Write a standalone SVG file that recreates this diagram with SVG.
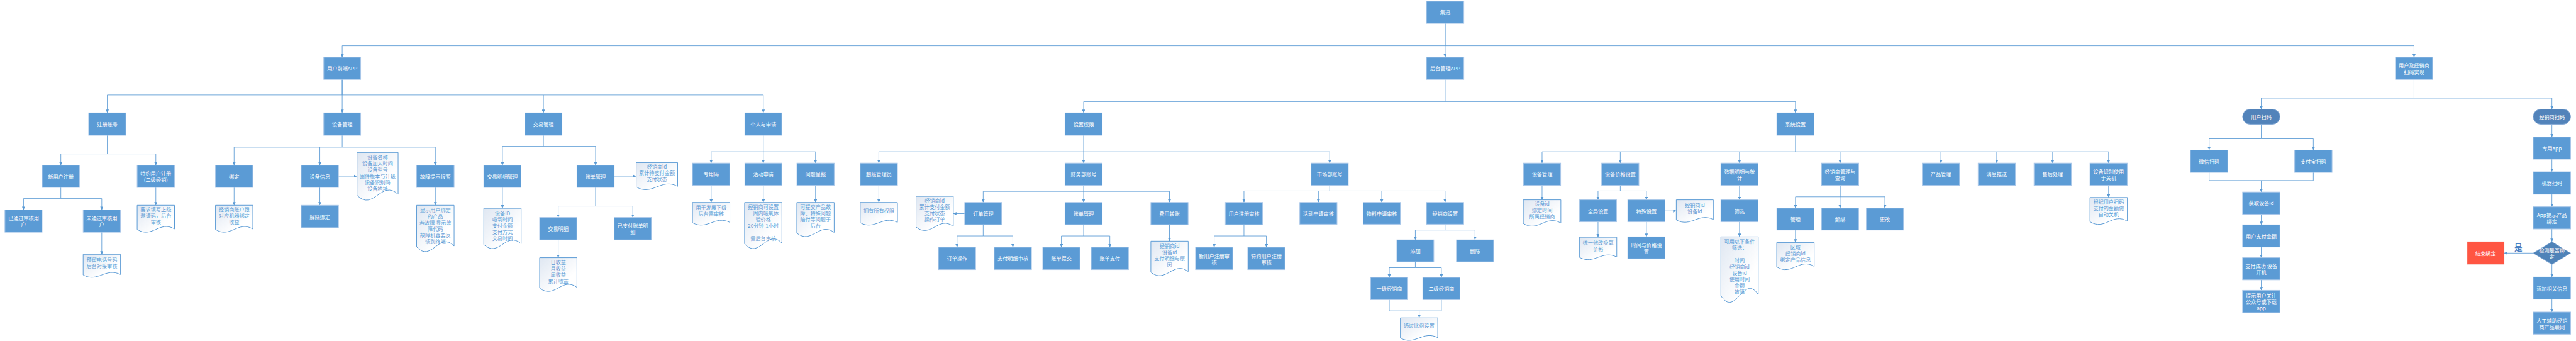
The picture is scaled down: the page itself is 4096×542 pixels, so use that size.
<svg xmlns="http://www.w3.org/2000/svg" width="4096" height="542" viewBox="0 0 4096 542">
<defs>
<style>
text{font-family:"Noto Sans CJK SC","Noto Sans",sans-serif;font-size:13px;text-anchor:middle;dominant-baseline:central}
.b rect,.b polygon{fill:#5B9BD5;stroke:#A8C6E8;stroke-width:1.5}
.b text{fill:#FFFFFF}
.s rect{fill:#5283BA;stroke:#86AAD6}
.dm polygon{fill:#4F83B8;stroke:#86AAD6}
.r rect{fill:#FF5542;stroke:#F0A89E}
.d path{fill:url(#dg);stroke:#5B9BD5;stroke-width:1}
.d text{fill:#5B9BD5}
#edges path{fill:none;stroke:#5B9BD5;stroke-width:1.4}
#edges path.a{marker-end:url(#ah)}
</style>
<linearGradient id="dg" x1="0" y1="0" x2="0.7" y2="0.7">
<stop offset="0" stop-color="#DFE7F2"/>
<stop offset="1" stop-color="#FFFFFF"/>
</linearGradient>
<marker id="ah" viewBox="0 0 10 10" refX="10" refY="5" markerWidth="8" markerHeight="8" orient="auto" markerUnits="userSpaceOnUse">
<path d="M0,0 L10,5 L0,10 z" fill="#5B9BD5"/>
</marker>
</defs>
<rect width="4096" height="542" fill="#FFFFFF"/>
<g transform="scale(0.6287)">
<g id="edges">
<path class="a" d="M3655,59 V115.5 H865.5 V144.6"/>
<path class="a" d="M3655,59 V144.6"/>
<path class="a" d="M3655,115.5 H6105.4 V144.6"/>
<path class="a" d="M865.5,200.7 V240 H271.3 V285.3"/>
<path class="a" d="M865.5,200.7 V285.3"/>
<path class="a" d="M865.5,240 H1374.4 V285.3"/>
<path class="a" d="M1374.4,240 H1930.5 V285.3"/>
<path class="a" d="M3655,200.7 V256.7 H2740.6 V285.3"/>
<path class="a" d="M3655,256.7 H4540.9 V285.3"/>
<path class="a" d="M6105.4,200.7 V248 H5719 V276"/>
<path class="a" d="M6105.4,248 H6454.1 V276"/>
<path class="a" d="M271.3,342 V389 H153.8 V417.8"/>
<path class="a" d="M271.3,389 H394.1 V417.8"/>
<path class="a" d="M153.8,473.9 V502 H59.5 V530.5"/>
<path class="a" d="M153.8,502 H257.4 V530.5"/>
<path class="a" d="M257.4,587.1 V643"/>
<path class="a" d="M394.1,473.9 V519"/>
<path class="a" d="M865.5,342 V372 H592.1 V417.8"/>
<path class="a" d="M808.9,372 V417.8"/>
<path class="a" d="M865.5,372 H1101.1 V417.8"/>
<path class="a" d="M592.1,473.9 V519"/>
<path class="a" d="M808.9,473.9 V519"/>
<path class="a" d="M856,445.3 H902.9"/>
<path class="a" d="M1101.1,473.9 V519"/>
<path class="a" d="M1374.4,342 V370 H1270.7 V417.8"/>
<path class="a" d="M1374.4,370 H1506.3 V417.8"/>
<path class="a" d="M1270.7,473.9 V526.7"/>
<path class="a" d="M1553.4,445.3 H1609"/>
<path class="a" d="M1506.3,473.9 V521 H1411.8 V549.8"/>
<path class="a" d="M1506.3,521 H1600.5 V549.8"/>
<path class="a" d="M1411.8,606.4 V651.5"/>
<path class="a" d="M1930.5,342 V412.3"/>
<path class="a" d="M1930.5,383.7 H1798.6 V412.3"/>
<path class="a" d="M1930.5,383.7 H2062.6 V412.3"/>
<path class="a" d="M1798.6,468.4 V511.8"/>
<path class="a" d="M1930.5,468.4 V511.8"/>
<path class="a" d="M2062.6,468.4 V511.8"/>
<path class="a" d="M2740.6,342 V412.3"/>
<path class="a" d="M2740.6,383.7 H2222.7 V412.3"/>
<path class="a" d="M2740.6,383.7 H3362.9 V412.3"/>
<path class="a" d="M2222.7,468.4 V511.8"/>
<path class="a" d="M2740.6,468.4 V511.8"/>
<path class="a" d="M2740.6,483.8 H2486.6 V511.8"/>
<path class="a" d="M2740.6,483.8 H2957.7 V511.8"/>
<path class="a" d="M2439.8,540 H2411"/>
<path class="a" d="M2486.6,567.9 V596.5 H2420.4 V625"/>
<path class="a" d="M2486.6,596.5 H2561.6 V625"/>
<path class="a" d="M2740.6,567.9 V596.5 H2684.3 V625"/>
<path class="a" d="M2740.6,596.5 H2806.9 V625"/>
<path class="a" d="M2957.7,567.9 V609.7"/>
<path class="a" d="M3362.9,468.4 V482.7 H3146.1 V511.8"/>
<path class="a" d="M3362.9,482.7 H3654.8 V511.8"/>
<path class="a" d="M3334.4,482.7 V511.8"/>
<path class="a" d="M3494.6,482.7 V511.8"/>
<path class="a" d="M3146.1,567.9 V596.5 H3070.7 V625"/>
<path class="a" d="M3146.1,596.5 H3202.8 V625"/>
<path class="a" d="M3654.8,566.8 V581.6 H3579.5 V606.4"/>
<path class="a" d="M3654.8,581.6 H3730.5 V606.4"/>
<path class="a" d="M3579.5,661.9 V676.8 H3513.6 V701.5"/>
<path class="a" d="M3579.5,676.8 H3645.4 V701.5"/>
<path d="M3513.6,757.6 V786.1 H3645.4 V757.6"/>
<path class="a" d="M3589.3,786.1 V803.7"/>
<path class="a" d="M4540.9,342 V383.7 H3900.1 V412.3"/>
<path class="a" d="M4540.9,383.7 H5332.9 V412.3"/>
<path class="a" d="M4097.9,383.7 V412.3"/>
<path class="a" d="M4399.4,383.7 V412.3"/>
<path class="a" d="M4653.9,383.7 V412.3"/>
<path class="a" d="M4908.8,383.7 V412.3"/>
<path class="a" d="M5050,383.7 V412.3"/>
<path class="a" d="M5191.4,383.7 V412.3"/>
<path class="a" d="M3900.1,468.4 V505.2"/>
<path class="a" d="M4097.9,468.4 V482.7 H4041.6 V505.2"/>
<path class="a" d="M4097.9,482.7 H4163.9 V505.2"/>
<path class="a" d="M4041.6,560.8 V599.8"/>
<path class="a" d="M4163.9,560.8 V598.7"/>
<path class="a" d="M4211,533.3 H4239.5"/>
<path class="a" d="M4399.4,468.4 V505.2"/>
<path class="a" d="M4399.4,560.8 V598.7"/>
<path class="a" d="M4653.9,468.4 V497.5 H4540.9 V526.1"/>
<path class="a" d="M4653.9,468.4 V526.1"/>
<path class="a" d="M4653.9,497.5 H4767.1 V526.1"/>
<path class="a" d="M4540.9,581.6 V613"/>
<path class="a" d="M5332.9,468.4 V499.2"/>
<path class="a" d="M5719,314 V350.7 H5587.2 V379.3"/>
<path class="a" d="M5719,350.7 H5850.7 V379.3"/>
<path d="M5587.2,435.9 V456.3 H5850.7 V435.9"/>
<path class="a" d="M5719,456.3 V485.4"/>
<path class="a" d="M5719,541.5 V568.4"/>
<path class="a" d="M5719,624.5 V651.5"/>
<path class="a" d="M5719,707.5 V733.9"/>
<path class="a" d="M6454.1,314 V346.3"/>
<path class="a" d="M6454.1,402.4 V434.3"/>
<path class="a" d="M6454.1,491 V522.8"/>
<path class="a" d="M6454.1,578.9 V611.3"/>
<path class="a" d="M6454.1,668.5 V700.4"/>
<path class="a" d="M6454.1,756.5 V788.9"/>
<path class="a" d="M6406.8,639.9 H6333.1"/>
</g>
<text x="6369" y="624" style="font-size:20px;fill:#4A80C4;font-weight:bold">是</text>

<g id="n_jixun" class="b"><rect x="3607.7" y="3" width="94.6" height="56"/><text x="3655" y="31">集迅</text></g>
<g id="n_userapp" class="b"><rect x="818.8" y="144.6" width="93.5" height="56.1"/><text x="865.5" y="172.6">用户前端APP</text></g>
<g id="n_adminapp" class="b"><rect x="3607.7" y="144.6" width="94.6" height="56.1"/><text x="3655" y="172.6">后台管理APP</text></g>
<g id="n_scanimpl" class="b"><rect x="6058.4" y="144.6" width="93.9" height="56.1"/><text><tspan x="6105.4" y="164.6">用户及经销商</tspan><tspan x="6105.4" y="180.6">扫码实现</tspan></text></g>

<g id="n_zhuce" class="b"><rect x="224.2" y="285.3" width="94.2" height="56.7"/><text x="271.3" y="313.6">注册账号</text></g>
<g id="n_shebei" class="b"><rect x="818.8" y="285.3" width="93.5" height="56.7"/><text x="865.5" y="313.6">设备管理</text></g>
<g id="n_jiaoyi" class="b"><rect x="1327.5" y="285.3" width="93.8" height="56.7"/><text x="1374.4" y="313.6">交易管理</text></g>
<g id="n_geren" class="b"><rect x="1883.8" y="285.3" width="93.5" height="56.7"/><text x="1930.5" y="313.6">个人与申请</text></g>
<g id="n_quanxian" class="b"><rect x="2693.5" y="285.3" width="94.1" height="56.7"/><text x="2740.6" y="313.6">设置权限</text></g>
<g id="n_xitong" class="b"><rect x="4493.8" y="285.3" width="94.2" height="56.7"/><text x="4540.9" y="313.6">系统设置</text></g>

<g id="n_xinyonghu" class="b"><rect x="106.7" y="417.8" width="94.2" height="56.1"/><text x="153.8" y="445.9">新用户注册</text></g>
<g id="n_teyue" class="b"><rect x="346.9" y="417.8" width="94.5" height="56.1"/><text><tspan x="394.1" y="437.9">特约用户注册</tspan><tspan x="394.1" y="453.9">(二级经销)</tspan></text></g>
<g id="n_bangding" class="b"><rect x="544.9" y="417.8" width="94.5" height="56.1"/><text x="592.1" y="445.9">绑定</text></g>
<g id="n_shebeixinxi" class="b"><rect x="761.8" y="417.8" width="94.2" height="56.1"/><text x="808.9" y="445.9">设备信息</text></g>
<g id="n_guzhang" class="b"><rect x="1053.7" y="417.8" width="94.8" height="56.1"/><text x="1101.1" y="445.9">故障提示报警</text></g>
<g id="n_jymxgl" class="b"><rect x="1223.6" y="417.8" width="94.1" height="56.1"/><text x="1270.7" y="445.9">交易明细管理</text></g>
<g id="n_zhangdan" class="b"><rect x="1459.2" y="417.8" width="94.2" height="56.1"/><text x="1506.3" y="445.9">账单管理</text></g>

<g id="n_zhuanyongma" class="b"><rect x="1751.4" y="412.3" width="94.2" height="56.1"/><text x="1798.6" y="440.4">专用码</text></g>
<g id="n_huodong" class="b"><rect x="1883.8" y="412.3" width="93.5" height="56.1"/><text x="1930.5" y="440.4">活动申请</text></g>
<g id="n_wenti" class="b"><rect x="2015.5" y="412.3" width="94.2" height="56.1"/><text x="2062.6" y="440.4">问题呈报</text></g>
<g id="n_chaoji" class="b"><rect x="2175.6" y="412.3" width="94.2" height="56.1"/><text x="2222.7" y="440.4">超级管理员</text></g>
<g id="n_caiwu" class="b"><rect x="2693.5" y="412.3" width="94.1" height="56.1"/><text x="2740.6" y="440.4">财务部账号</text></g>
<g id="n_shichang" class="b"><rect x="3315.8" y="412.3" width="94.2" height="56.1"/><text x="3362.9" y="440.4">市场部账号</text></g>
<g id="n_sbgl2" class="b"><rect x="3853" y="412.3" width="94.2" height="56.1"/><text x="3900.1" y="440.4">设备管理</text></g>
<g id="n_jiage" class="b"><rect x="4050.8" y="412.3" width="94.2" height="56.1"/><text x="4097.9" y="440.4">设备价格设置</text></g>
<g id="n_shuju" class="b"><rect x="4352.3" y="412.3" width="94.2" height="56.1"/><text><tspan x="4399.4" y="432.4">数据明细与统</tspan><tspan x="4399.4" y="448.4">计</tspan></text></g>
<g id="n_jxsgl" class="b"><rect x="4606.8" y="412.3" width="94.2" height="56.1"/><text><tspan x="4653.9" y="432.4">经销商管理与</tspan><tspan x="4653.9" y="448.4">查询</tspan></text></g>
<g id="n_chanpin" class="b"><rect x="4861.7" y="412.3" width="94.2" height="56.1"/><text x="4908.8" y="440.4">产品管理</text></g>
<g id="n_xiaoxi" class="b"><rect x="5002.9" y="412.3" width="94.2" height="56.1"/><text x="5050" y="440.4">消息推送</text></g>
<g id="n_shouhou" class="b"><rect x="5144.3" y="412.3" width="94.2" height="56.1"/><text x="5191.4" y="440.4">售后处理</text></g>
<g id="n_shibie" class="b"><rect x="5285.8" y="412.3" width="94.2" height="56.1"/><text><tspan x="5332.9" y="432.4">设备识别使用</tspan><tspan x="5332.9" y="448.4">于关机</tspan></text></g>

<g id="n_yitongguo" class="b"><rect x="12.5" y="530.5" width="94" height="56.6"/><text><tspan x="59.5" y="550.8">已通过审核用</tspan><tspan x="59.5" y="566.8">户</tspan></text></g>
<g id="n_weitongguo" class="b"><rect x="210.3" y="530.5" width="94.2" height="56.6"/><text><tspan x="257.4" y="550.8">未通过审核用</tspan><tspan x="257.4" y="566.8">户</tspan></text></g>
<g id="n_jiechu" class="b"><rect x="761.8" y="519" width="94.2" height="56.6"/><text x="808.9" y="547.3">解除绑定</text></g>
<g id="n_jymx" class="b"><rect x="1364.7" y="549.8" width="94.2" height="56.6"/><text x="1411.8" y="578.1">交易明细</text></g>
<g id="n_yizhifu" class="b"><rect x="1553.4" y="549.8" width="94.1" height="56.6"/><text><tspan x="1600.5" y="570.1">已支付账单明</tspan><tspan x="1600.5" y="586.1">细</tspan></text></g>
<g id="n_dingdan" class="b"><rect x="2439.8" y="511.8" width="93.6" height="56.1"/><text x="2486.6" y="539.9">订单管理</text></g>
<g id="n_zdgl2" class="b"><rect x="2693.5" y="511.8" width="94.1" height="56.1"/><text x="2740.6" y="539.9">账单管理</text></g>
<g id="n_feiyong" class="b"><rect x="2910.6" y="511.8" width="94.2" height="56.1"/><text x="2957.7" y="539.9">费用转账</text></g>
<g id="n_zcsh" class="b"><rect x="3099" y="511.8" width="94.2" height="56.1"/><text x="3146.1" y="539.9">用户注册审核</text></g>
<g id="n_hdsh" class="b"><rect x="3287.3" y="511.8" width="94.2" height="55"/><text x="3334.4" y="539.3">活动申请审核</text></g>
<g id="n_wlsh" class="b"><rect x="3447.5" y="511.8" width="94.2" height="55"/><text x="3494.6" y="539.3">物料申请审核</text></g>
<g id="n_jxssz" class="b"><rect x="3607.7" y="511.8" width="94.2" height="55"/><text x="3654.8" y="539.3">经销商设置</text></g>
<g id="n_quanju" class="b"><rect x="3994.8" y="505.2" width="93.6" height="55.6"/><text x="4041.6" y="533">全局设置</text></g>
<g id="n_teshu" class="b"><rect x="4116.8" y="505.2" width="94.2" height="55.6"/><text x="4163.9" y="533">特殊设置</text></g>
<g id="n_shaixuan" class="b"><rect x="4352.3" y="505.2" width="94.2" height="55.6"/><text x="4399.4" y="533">筛选</text></g>
<g id="n_guanli" class="b"><rect x="4493.8" y="526.1" width="94.2" height="55.5"/><text x="4540.9" y="553.9">管理</text></g>
<g id="n_jiebang" class="b"><rect x="4606.8" y="526.1" width="94.2" height="55.5"/><text x="4653.9" y="553.9">解绑</text></g>
<g id="n_genggai" class="b"><rect x="4720" y="526.1" width="94.2" height="55.5"/><text x="4767.1" y="553.9">更改</text></g>

<g id="n_ddcz" class="b"><rect x="2373.4" y="625" width="94" height="56.7"/><text x="2420.4" y="653.4">订单操作</text></g>
<g id="n_zfmx" class="b"><rect x="2514.5" y="625" width="94.2" height="56.7"/><text x="2561.6" y="653.4">支付明细审核</text></g>
<g id="n_zdtj" class="b"><rect x="2637.2" y="625" width="94.2" height="56.7"/><text x="2684.3" y="653.4">账单提交</text></g>
<g id="n_zdzf" class="b"><rect x="2759.8" y="625" width="94.2" height="56.7"/><text x="2806.9" y="653.4">账单支付</text></g>
<g id="n_xyhsh" class="b"><rect x="3023.6" y="625" width="94.2" height="56.7"/><text><tspan x="3070.7" y="645.4">新用户注册审</tspan><tspan x="3070.7" y="661.4">核</tspan></text></g>
<g id="n_tyyhsh" class="b"><rect x="3155.7" y="625" width="94.2" height="56.7"/><text><tspan x="3202.8" y="645.4">特约用户注册</tspan><tspan x="3202.8" y="661.4">审核</tspan></text></g>
<g id="n_tianjia" class="b"><rect x="3532.7" y="606.4" width="93.6" height="55.5"/><text x="3579.5" y="634.2">添加</text></g>
<g id="n_shanchu" class="b"><rect x="3683.5" y="606.4" width="94" height="55.5"/><text x="3730.5" y="634.2">删除</text></g>
<g id="n_sjjg" class="b"><rect x="4116.8" y="598.7" width="94.2" height="55.5"/><text><tspan x="4163.9" y="618.5">时间与价格设</tspan><tspan x="4163.9" y="634.5">置</tspan></text></g>
<g id="n_yiji" class="b"><rect x="3466.6" y="701.5" width="94" height="56.1"/><text x="3513.6" y="729.6">一级经销商</text></g>
<g id="n_erji" class="b"><rect x="3598.4" y="701.5" width="94" height="56.1"/><text x="3645.4" y="729.6">二级经销商</text></g>

<g id="n_yhsm" class="b s"><rect x="5671.8" y="276" width="94.5" height="38" rx="19"/><text x="5719" y="295">用户扫码</text></g>
<g id="n_weixin" class="b"><rect x="5540" y="379.3" width="94.3" height="56.6"/><text x="5587.2" y="407.6">微信扫码</text></g>
<g id="n_zhifubao" class="b"><rect x="5803.5" y="379.3" width="94.5" height="56.6"/><text x="5850.7" y="407.6">支付宝扫码</text></g>
<g id="n_huoqu" class="b"><rect x="5671.8" y="485.4" width="94.5" height="56.1"/><text x="5719" y="513.5">获取设备id</text></g>
<g id="n_zfje" class="b"><rect x="5671.8" y="568.4" width="94.5" height="56.1"/><text x="5719" y="596.5">用户支付金额</text></g>
<g id="n_zfcg" class="b"><rect x="5671.8" y="651.5" width="94.5" height="56"/><text><tspan x="5719" y="671.5">支付成功 设备</tspan><tspan x="5719" y="687.5">开机</tspan></text></g>
<g id="n_tishi" class="b"><rect x="5671.8" y="733.9" width="94.5" height="56.6"/><text><tspan x="5719" y="746.2">提示用户关注</tspan><tspan x="5719" y="762.2">公众号或下载</tspan><tspan x="5719" y="778.2">app</tspan></text></g>
<g id="n_jxssm" class="b s"><rect x="6406.8" y="276" width="94.6" height="38" rx="19"/><text x="6454.1" y="295">经销商扫码</text></g>
<g id="n_zyapp" class="b"><rect x="6406.8" y="346.3" width="94.6" height="56.1"/><text x="6454.1" y="374.4">专用app</text></g>
<g id="n_jqsm" class="b"><rect x="6406.8" y="434.3" width="94.6" height="56.7"/><text x="6454.1" y="462.6">机器扫码</text></g>
<g id="n_apptishi" class="b"><rect x="6406.8" y="522.8" width="94.6" height="56.1"/><text><tspan x="6454.1" y="542.9">App提示产品</tspan><tspan x="6454.1" y="558.9">绑定</tspan></text></g>
<g id="n_jiance" class="b dm"><polygon points="6454.1,611.3 6501.4,639.9 6454.1,668.5 6406.8,639.9"/><text><tspan x="6454.1" y="631.9">检测是否绑</tspan><tspan x="6454.1" y="647.9">定</tspan></text></g>
<g id="n_jieshu" class="b r"><rect x="6239.6" y="611.3" width="93.5" height="56.7"/><text x="6286.4" y="639.6">结束绑定</text></g>
<g id="n_tjxx" class="b"><rect x="6406.8" y="700.4" width="94.6" height="56.1"/><text x="6454.1" y="728.5">添加相关信息</text></g>
<g id="n_rengong" class="b"><rect x="6406.8" y="788.9" width="94.6" height="56.1"/><text><tspan x="6454.1" y="809">人工辅助经销</tspan><tspan x="6454.1" y="825">商产品联网</tspan></text></g>

<g id="d_yuliu" class="d"><path vector-effect="non-scaling-stroke" transform="translate(210.3 643) scale(94.5 58)" d="M0,0H1V.88C.6,.55 .4,1.25 0,.9Z"/><text><tspan x="257.6" y="655.9">预留电话号码</tspan><tspan x="257.6" y="671.8">后台对接审核</tspan></text></g>
<g id="d_yaoqiu" class="d"><path vector-effect="non-scaling-stroke" transform="translate(346.9 519) scale(94.5 68)" d="M0,0H1V.88C.6,.55 .4,1.25 0,.9Z"/><text><tspan x="394.2" y="527.8">要求填写上级</tspan><tspan x="394.2" y="543.8">邀请码，后台</tspan><tspan x="394.2" y="559.8">审核</tspan></text></g>
<g id="d_sbxx" class="d"><path vector-effect="non-scaling-stroke" transform="translate(902.9 385.4) scale(104 120.4)" d="M0,0H1V.88C.6,.55 .4,1.25 0,.9Z"/><text><tspan x="954.9" y="395.8">设备名称</tspan><tspan x="954.9" y="411.8">设备加入时间</tspan><tspan x="954.9" y="427.8">设备型号</tspan><tspan x="954.9" y="443.8">固件版本与升级</tspan><tspan x="954.9" y="459.8">设备识别码</tspan><tspan x="954.9" y="475.8">设备地址</tspan></text></g>
<g id="d_bangding" class="d"><path vector-effect="non-scaling-stroke" transform="translate(544.9 519) scale(94.5 68)" d="M0,0H1V.88C.6,.55 .4,1.25 0,.9Z"/><text><tspan x="592.2" y="527.8">经销商账户跟</tspan><tspan x="592.2" y="543.8">对应机器绑定</tspan><tspan x="592.2" y="559.8">收益</tspan></text></g>
<g id="d_guzhang" class="d"><path vector-effect="non-scaling-stroke" transform="translate(1053.7 519) scale(94.8 117)" d="M0,0H1V.88C.6,.55 .4,1.25 0,.9Z"/><text><tspan x="1101.1" y="528.9">显示用户绑定</tspan><tspan x="1101.1" y="544.9">的产品</tspan><tspan x="1101.1" y="560.9">若故障 显示故</tspan><tspan x="1101.1" y="576.9">障代码</tspan><tspan x="1101.1" y="592.9">故障机器要反</tspan><tspan x="1101.1" y="608.9">馈到终端</tspan></text></g>
<g id="d_jymx" class="d"><path vector-effect="non-scaling-stroke" transform="translate(1223.6 526.7) scale(94.5 101.7)" d="M0,0H1V.88C.6,.55 .4,1.25 0,.9Z"/><text><tspan x="1270.9" y="537.1">设备ID</tspan><tspan x="1270.9" y="553.1">吸氧时间</tspan><tspan x="1270.9" y="569.1">支付金额</tspan><tspan x="1270.9" y="585.1">支付方式</tspan><tspan x="1270.9" y="601.1">交易时间</tspan></text></g>
<g id="d_shouyi" class="d"><path vector-effect="non-scaling-stroke" transform="translate(1364.7 651.5) scale(94.5 85.2)" d="M0,0H1V.88C.6,.55 .4,1.25 0,.9Z"/><text><tspan x="1412" y="661.9">日收益</tspan><tspan x="1412" y="677.9">月收益</tspan><tspan x="1412" y="693.9">周收益</tspan><tspan x="1412" y="709.9">累计收益</tspan></text></g>
<g id="d_zhangdan" class="d"><path vector-effect="non-scaling-stroke" transform="translate(1609 411) scale(104.8 68.4)" d="M0,0H1V.88C.6,.55 .4,1.25 0,.9Z"/><text><tspan x="1661.4" y="420">经销商id</tspan><tspan x="1661.4" y="436">累计待支付金额</tspan><tspan x="1661.4" y="452">支付状态</tspan></text></g>
<g id="d_zym" class="d"><path vector-effect="non-scaling-stroke" transform="translate(1751.4 511.8) scale(94.5 57.2)" d="M0,0H1V.88C.6,.55 .4,1.25 0,.9Z"/><text><tspan x="1798.7" y="523.9">用于发展下级</tspan><tspan x="1798.7" y="539.9">后台需审核</tspan></text></g>
<g id="d_huodong" class="d"><path vector-effect="non-scaling-stroke" transform="translate(1883.1 511.8) scale(94.5 116.6)" d="M0,0H1V.88C.6,.55 .4,1.25 0,.9Z"/><text><tspan x="1930.4" y="521.2">经销商可设置</tspan><tspan x="1930.4" y="537.2">一周内吸氧体</tspan><tspan x="1930.4" y="553.2">验价格</tspan><tspan x="1930.4" y="569.2">20分钟-1小时</tspan><tspan x="1930.4" y="601.2">需后台审核</tspan></text></g>
<g id="d_wenti" class="d"><path vector-effect="non-scaling-stroke" transform="translate(2015.2 511.8) scale(94.5 86.2)" d="M0,0H1V.88C.6,.55 .4,1.25 0,.9Z"/><text><tspan x="2062.5" y="521.7">可提交产品故</tspan><tspan x="2062.5" y="537.7">障、特殊问题</tspan><tspan x="2062.5" y="553.7">赔付等问题于</tspan><tspan x="2062.5" y="569.7">后台</tspan></text></g>
<g id="d_chaoji" class="d"><path vector-effect="non-scaling-stroke" transform="translate(2175.6 511.8) scale(94.2 57.2)" d="M0,0H1V.88C.6,.55 .4,1.25 0,.9Z"/><text x="2222.7" y="532.2">拥有所有权限</text></g>
<g id="d_dingdan" class="d"><path vector-effect="non-scaling-stroke" transform="translate(2316.8 496.4) scale(94.2 86.3)" d="M0,0H1V.88C.6,.55 .4,1.25 0,.9Z"/><text><tspan x="2363.9" y="506.3">经销商id</tspan><tspan x="2363.9" y="522.3">累计支付金额</tspan><tspan x="2363.9" y="538.3">支付状态</tspan><tspan x="2363.9" y="554.3">操作订单</tspan></text></g>
<g id="d_feiyong" class="d"><path vector-effect="non-scaling-stroke" transform="translate(2910.6 609.7) scale(94.5 87.3)" d="M0,0H1V.88C.6,.55 .4,1.25 0,.9Z"/><text><tspan x="2957.9" y="620.1">经销商id</tspan><tspan x="2957.9" y="636.1">设备id</tspan><tspan x="2957.9" y="652.1">支付明细与原</tspan><tspan x="2957.9" y="668.1">因</tspan></text></g>
<g id="d_bili" class="d"><path vector-effect="non-scaling-stroke" transform="translate(3541.7 803.7) scale(94.5 56.7)" d="M0,0H1V.88C.6,.55 .4,1.25 0,.9Z"/><text x="3589" y="823.5">通过比例设置</text></g>
<g id="d_sbgl2" class="d"><path vector-effect="non-scaling-stroke" transform="translate(3852.6 505.2) scale(95 66.5)" d="M0,0H1V.88C.6,.55 .4,1.25 0,.9Z"/><text><tspan x="3900.1" y="514">设备id</tspan><tspan x="3900.1" y="530">绑定时间</tspan><tspan x="3900.1" y="546">所属经销商</tspan></text></g>
<g id="d_quanju" class="d"><path vector-effect="non-scaling-stroke" transform="translate(3994.5 599.8) scale(94.5 56.6)" d="M0,0H1V.88C.6,.55 .4,1.25 0,.9Z"/><text><tspan x="4041.8" y="613">统一修改吸氧</tspan><tspan x="4041.8" y="629">价格</tspan></text></g>
<g id="d_teshu" class="d"><path vector-effect="non-scaling-stroke" transform="translate(4239.5 505.2) scale(93.7 56.6)" d="M0,0H1V.88C.6,.55 .4,1.25 0,.9Z"/><text><tspan x="4286.4" y="516.8">经销商id</tspan><tspan x="4286.4" y="532.8">设备id</tspan></text></g>
<g id="d_shaixuan" class="d"><path vector-effect="non-scaling-stroke" transform="translate(4352.3 598.7) scale(94.5 165.5)" d="M0,0H1V.88C.6,.55 .4,1.25 0,.9Z"/><text><tspan x="4399.5" y="608.6">可用以下条件</tspan><tspan x="4399.5" y="624.6">筛选：</tspan><tspan x="4399.5" y="656.6">时间</tspan><tspan x="4399.5" y="672.6">经销商id</tspan><tspan x="4399.5" y="688.6">设备id</tspan><tspan x="4399.5" y="704.6">使用时间</tspan><tspan x="4399.5" y="720.6">金额</tspan><tspan x="4399.5" y="736.6">故障</tspan></text></g>
<g id="d_guanli" class="d"><path vector-effect="non-scaling-stroke" transform="translate(4493.5 613) scale(94.8 68.7)" d="M0,0H1V.88C.6,.55 .4,1.25 0,.9Z"/><text><tspan x="4540.9" y="622.9">区域</tspan><tspan x="4540.9" y="638.9">经销商id</tspan><tspan x="4540.9" y="654.9">绑定产品信息</tspan></text></g>
<g id="d_shibie" class="d"><path vector-effect="non-scaling-stroke" transform="translate(5285.8 499.2) scale(94.5 68.1)" d="M0,0H1V.88C.6,.55 .4,1.25 0,.9Z"/><text><tspan x="5333" y="509">根据用户扫码</tspan><tspan x="5333" y="525">支付的金额做</tspan><tspan x="5333" y="541">自动关机</tspan></text></g>
</g>
</svg>
